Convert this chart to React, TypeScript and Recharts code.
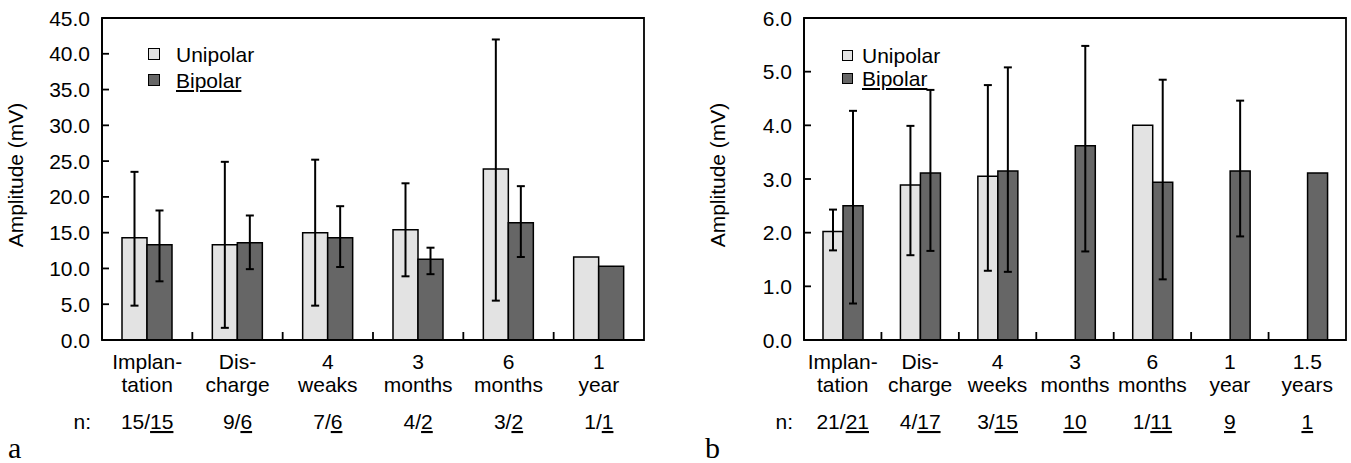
import React from "react"
import { BarChart, Bar, XAxis, YAxis, ErrorBar, Legend, ReferenceArea } from "recharts"

// panel a
const catsA = [
  ["Implan-", "tation"],
  ["Dis-", "charge"],
  ["4", "weaks"],
  ["3", "months"],
  ["6", "months"],
  ["1", "year"],
]
const uniA = [14.3, 13.3, 15.0, 15.4, 23.9, 11.6]
const uniHiA = [23.5, 24.9, 25.2, 21.9, 42.0, null]
const uniLoA = [4.8, 1.7, 4.8, 8.9, 5.5, null]
const bipA = [13.3, 13.6, 14.3, 11.3, 16.4, 10.3]
const bipHiA = [18.1, 17.4, 18.7, 12.9, 21.5, null]
const bipLoA = [8.2, 9.9, 10.2, 9.2, 11.6, null]
const nUniA = ["15", "9", "7", "4", "3", "1"]
const nBipA = ["15", "6", "6", "2", "2", "1"]
const ticksA = [0, 5, 10, 15, 20, 25, 30, 35, 40, 45]

// panel b
const catsB = [
  ["Implan-", "tation"],
  ["Dis-", "charge"],
  ["4", "weeks"],
  ["3", "months"],
  ["6", "months"],
  ["1", "year"],
  ["1.5", "years"],
]
const uniB = [2.02, 2.89, 3.05, null, 4.0, null, null]
const uniHiB = [2.43, 3.99, 4.75, null, null, null, null]
const uniLoB = [1.67, 1.58, 1.29, null, null, null, null]
const bipB = [2.5, 3.11, 3.15, 3.62, 2.94, 3.15, 3.11]
const bipHiB = [4.27, 4.66, 5.08, 5.48, 4.85, 4.46, null]
const bipLoB = [0.68, 1.66, 1.27, 1.65, 1.13, 1.93, null]
const nUniB = ["21", "4", "3", null, "1", null, null]
const nBipB = ["21", "17", "15", "10", "11", "9", "1"]
const ticksB = [0, 1, 2, 3, 4, 5, 6]

const seriesNames = ["Unipolar", "Bipolar"]

const FONT = "'Liberation Sans', Arial, sans-serif"
const FS = 21
const UNI = "#e3e3e3"
const BIP = "#666666"

function err(v: number | null, lo: number | null, hi: number | null) {
  if (v == null || lo == null || hi == null) return null
  return [v - lo, hi - v]
}

function buildRows(cats, uni, uniLo, uniHi, bip, bipLo, bipHi) {
  return cats.map((c, i) => ({
    cat: c.join(" "),
    uni: uni[i],
    bip: bip[i],
    uniErr: err(uni[i], uniLo[i], uniHi[i]),
    bipErr: err(bip[i], bipLo[i], bipHi[i]),
  }))
}

function Panel({ width, left, yAxisWidth, right, cats, rows, nUni, nBip, ticks, max, barSize, labelX, legendPos }) {
  const height = 463
  const plotW = width - yAxisWidth - right
  const band = plotW / cats.length

  const CatTick = (props) => {
    const { x, y, index } = props
    const lines = cats[index]
    return (
      <g fontFamily={FONT} fontSize={FS} fill="#000">
        {index < cats.length - 1 && (
          <line x1={x + band / 2} x2={x + band / 2} y1={y} y2={y - 8} stroke="#000" strokeWidth={1.8} />
        )}
        <text x={x} y={y + 29} textAnchor="middle" fill="#000">{lines[0]}</text>
        <text x={x} y={y + 52} textAnchor="middle" fill="#000">{lines[1]}</text>
        <text x={x} y={y + 89} textAnchor="middle" fill="#000">
          {nUni[index] != null && <tspan>{nUni[index]}/</tspan>}
          <tspan textDecoration="underline">{nBip[index]}</tspan>
        </text>
        {index === 0 && (
          <text x={x - band / 2 - 11} y={y + 89} textAnchor="end" fill="#000">n:</text>
        )}
      </g>
    )
  }

  const ValTick = (props) => {
    const { x, y, payload } = props
    return (
      <g>
        <line x1={x + 12} x2={x + 19} y1={y} y2={y} stroke="#000" strokeWidth={1.8} />
        <text x={x} y={y} dy="0.36em" textAnchor="end" fontFamily={FONT} fontSize={FS} fill="#000">
          {Number(payload.value).toFixed(1)}
        </text>
      </g>
    )
  }

  const yLabel = (props) => {
    const vb = props.viewBox
    const cx = vb.x + labelX
    const cy = 175
    return (
      <text
        x={cx}
        y={cy}
        transform={`rotate(-90 ${cx} ${cy})`}
        textAnchor="middle"
        dominantBaseline="central"
        fontFamily={FONT}
        fontSize={FS}
        fill="#000"
      >
        Amplitude (mV)
      </text>
    )
  }

  const legendContent = (props) => {
    const items = [...props.payload].sort((a, b) => seriesNames.indexOf(a.value) - seriesNames.indexOf(b.value))
    return (
      <div style={{ fontFamily: FONT, fontSize: FS, color: "#000" }}>
        {items.map((p) => (
          <div key={p.value} style={{ display: "flex", alignItems: "center", height: legendPos.row }}>
            <div
              style={{
                width: legendPos.box,
                height: legendPos.box,
                boxSizing: "border-box",
                border: "1.5px solid #000",
                background: p.color,
                marginRight: legendPos.gap,
              }}
            />
            <span style={{ textDecoration: p.value === "Bipolar" ? "underline" : "none", lineHeight: 1 }}>{p.value}</span>
          </div>
        ))}
      </div>
    )
  }

  return (
    <div style={{ position: "absolute", left, top: 0 }}>
      <BarChart
        width={width}
        height={height}
        data={rows}
        margin={{ top: 18, right, bottom: 23, left: 0 }}
        barGap={0}
        barSize={barSize}
      >
        <ReferenceArea
          x1={rows[0].cat}
          x2={rows[rows.length - 1].cat}
          y1={0}
          y2={max}
          fill="none"
          stroke="#000"
          strokeWidth={1.8}
          fillOpacity={0}
        />
        <XAxis
          dataKey="cat"
          height={100}
          interval={0}
          tickSize={0}
          tickMargin={0}
          tickLine={false}
          axisLine={{ stroke: "#000", strokeWidth: 2 }}
          tick={CatTick}
        />
        <YAxis
          width={yAxisWidth}
          domain={[0, max]}
          ticks={ticks}
          interval={0}
          tickSize={0}
          tickMargin={12}
          tickLine={false}
          axisLine={{ stroke: "#000", strokeWidth: 1.8 }}
          tick={ValTick}
          label={yLabel}
        />
        <Legend
          layout="vertical"
          align="center"
          verticalAlign="middle"
          content={legendContent}
          wrapperStyle={{ left: legendPos.left, top: legendPos.top, width: "auto" }}
        />
        <Bar dataKey="uni" name="Unipolar" fill={UNI} stroke="#000" strokeWidth={1.5} isAnimationActive={false}>
          <ErrorBar dataKey="uniErr" width={4} stroke="#000" strokeWidth={2} />
        </Bar>
        <Bar dataKey="bip" name="Bipolar" fill={BIP} stroke="#000" strokeWidth={1.5} isAnimationActive={false}>
          <ErrorBar dataKey="bipErr" width={4} stroke="#000" strokeWidth={2} />
        </Bar>
      </BarChart>
    </div>
  )
}

export default function App() {
  const rowsA = buildRows(catsA, uniA, uniLoA, uniHiA, bipA, bipLoA, bipHiA)
  const rowsB = buildRows(catsB, uniB, uniLoB, uniHiB, bipB, bipLoB, bipHiB)

  return (
    <div style={{ position: "absolute", left: 0, top: 0, width: 1351, height: 463, background: "#fff", overflow: "hidden" }}>
      <Panel
        width={660}
        left={0}
        yAxisWidth={102}
        right={16}
        cats={catsA}
        rows={rowsA}
        nUni={nUniA}
        nBip={nBipA}
        ticks={ticksA}
        max={45}
        barSize={25}
        labelX={15.5}
        legendPos={{ left: 148, top: 41, row: 26, box: 12, gap: 16 }}
      />
      <Panel
        width={671}
        left={680}
        yAxisWidth={124}
        right={5}
        cats={catsB}
        rows={rowsB}
        nUni={nUniB}
        nBip={nBipB}
        ticks={ticksB}
        max={6}
        barSize={20}
        labelX={37.5}
        legendPos={{ left: 162, top: 44, row: 23, box: 11, gap: 9 }}
      />
      <svg width={1351} height={463} style={{ position: "absolute", left: 0, top: 0, pointerEvents: "none" }}>
        <text x={8} y={458} fontFamily="'Liberation Serif', 'Times New Roman', serif" fontSize={30} fill="#000">a</text>
        <text x={705} y={458} fontFamily="'Liberation Serif', 'Times New Roman', serif" fontSize={30} fill="#000">b</text>
      </svg>
    </div>
  )
}
